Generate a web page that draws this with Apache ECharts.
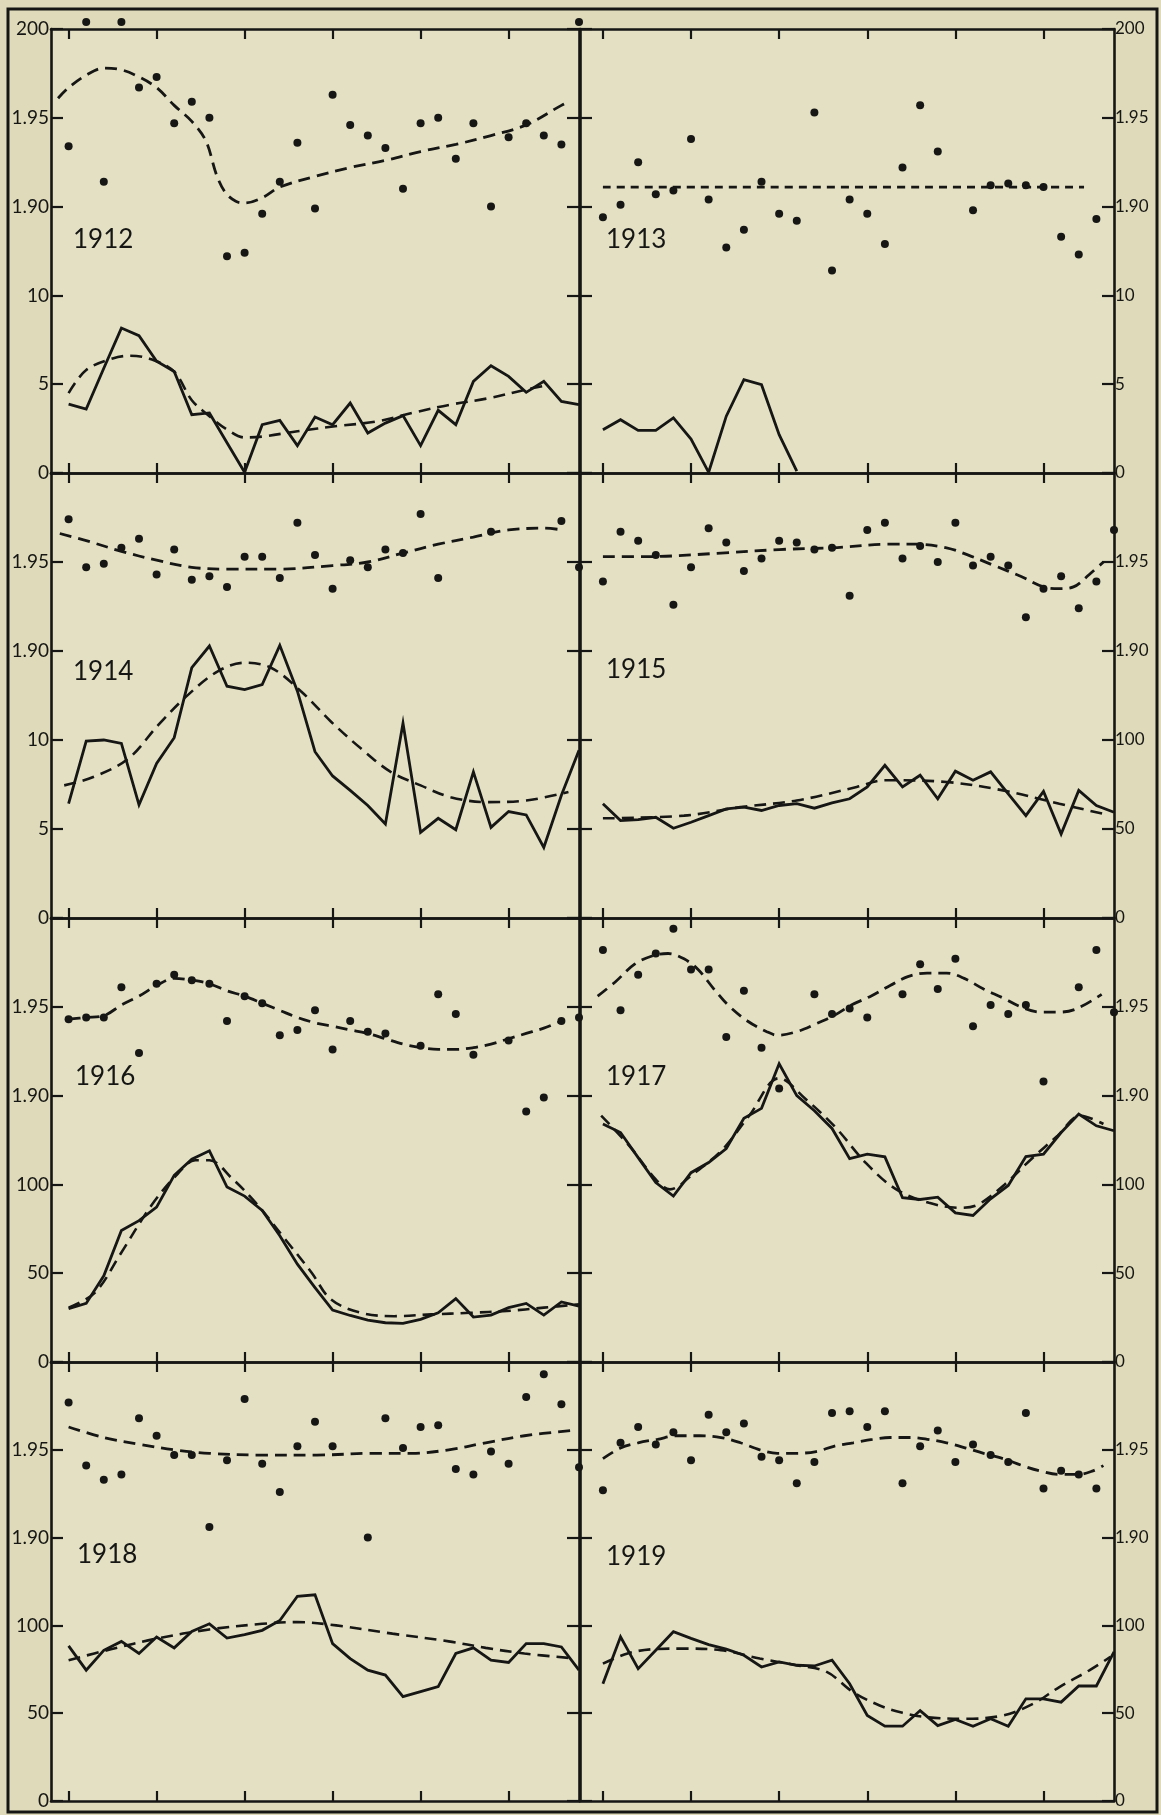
<!DOCTYPE html>
<html>
<head>
<meta charset="utf-8">
<script src="https://cdn.jsdelivr.net/npm/echarts@6/dist/echarts.min.js"></script>
<style>
  html, body { margin: 0; padding: 0; background: #dedaba; }
  #chart { width: 1161px; height: 1815px; }
</style>
</head>
<body>
<div id="chart"></div>
<script>
// ---- Data: one entry per period (index 0..29) for each year ----
// dotsYYYY  : upper scale readings (null where no reading)
// countYYYY : lower scale readings (solid line)
// fitYYYYUpper / fitYYYYLower : smoothed trend curves as [period, value]

const xTicks = [0, 5, 10, 15, 20, 25];

const dots1912 = [1.934, 2.004, 1.914, 2.004, 1.967, 1.973, 1.947, 1.959, 1.950, 1.872, 1.874, 1.896, 1.914, 1.936, 1.899, 1.963, 1.946, 1.940, 1.933, 1.910, 1.947, 1.950, 1.927, 1.947, 1.900, 1.939, 1.947, 1.940, 1.935, 2.004];
const count1912 = [3.88, 3.6, 5.9, 8.16, 7.73, 6.29, 5.72, 3.28, 3.38, 1.7, 0.04, 2.72, 2.96, 1.54, 3.15, 2.72, 3.94, 2.25, 2.81, 3.23, 1.54, 3.53, 2.72, 5.16, 6.04, 5.44, 4.54, 5.16, 4.03, 3.85];
const fit1912Upper = [[-0.6, 1.961], [0, 1.967], [1, 1.974], [2, 1.978], [3, 1.977], [4, 1.973], [5, 1.967], [6, 1.957], [7, 1.948], [7.8, 1.937], [8.4, 1.918], [8.9, 1.908], [9.5, 1.903], [10, 1.902], [11, 1.905], [12, 1.911], [14, 1.917], [16, 1.922], [18, 1.926], [20, 1.931], [22, 1.935], [24, 1.940], [26, 1.946], [28, 1.957], [28.4, 1.959]];
const fit1912Lower = [[0, 4.5], [1, 5.8], [2.5, 6.45], [3.5, 6.6], [4.7, 6.4], [6, 5.7], [7, 4.1], [8, 3.2], [9, 2.45], [10, 2.0], [11, 2.05], [13, 2.35], [15.3, 2.65], [17.5, 2.9], [19.6, 3.4], [21.7, 3.85], [23.8, 4.2], [26, 4.7], [27, 4.9]];

const dots1913 = [1.894, 1.901, 1.925, 1.907, 1.909, 1.938, 1.904, 1.877, 1.887, 1.914, 1.896, 1.892, 1.953, 1.864, 1.904, 1.896, 1.879, 1.922, 1.957, 1.931, null, 1.898, 1.912, 1.913, 1.912, 1.911, 1.883, 1.873, 1.893, null];
const count1913 = [2.44, 3.0, 2.4, 2.4, 3.1, 1.91, 0.04, 3.2, 5.25, 4.97, 2.16, 0.1];
const fit1913Upper = [[0, 1.911], [27.3, 1.911]];

const dots1914 = [1.974, 1.947, 1.949, 1.958, 1.963, 1.943, 1.957, 1.940, 1.942, 1.936, 1.953, 1.953, 1.941, 1.972, 1.954, 1.935, 1.951, 1.947, 1.957, 1.955, 1.977, 1.941, null, null, 1.967, null, null, null, 1.973, 1.947];
const count1914 = [6.42, 9.94, 10.0, 9.81, 6.36, 8.68, 10.13, 14.06, 15.28, 13.02, 12.83, 13.11, 15.32, 12.74, 9.34, 7.98, 7.17, 6.32, 5.28, 10.94, 4.81, 5.6, 4.96, 8.21, 5.09, 5.98, 5.79, 3.96, 6.9, 9.43];
const fit1914Upper = [[-0.5, 1.966], [1, 1.962], [3, 1.956], [5, 1.951], [7, 1.947], [9, 1.946], [12, 1.946], [15, 1.948], [17, 1.950], [19, 1.955], [21, 1.960], [23, 1.964], [25, 1.968], [27, 1.969], [28.1, 1.968]];
const fit1914Lower = [[-0.25, 7.45], [1.4, 7.92], [3.4, 8.96], [5.1, 10.85], [6.8, 12.55], [8.5, 13.87], [10, 14.34], [11.5, 14.06], [13.2, 12.74], [14.9, 11.04], [16.6, 9.53], [18.3, 8.21], [20, 7.45], [21.7, 6.79], [23.8, 6.51], [26, 6.6], [28.4, 7.08]];

const dots1915 = [1.939, 1.967, 1.962, 1.954, 1.926, 1.947, 1.969, 1.961, 1.945, 1.952, 1.962, 1.961, 1.957, 1.958, 1.931, 1.968, 1.972, 1.952, 1.959, 1.950, 1.972, 1.948, 1.953, 1.948, 1.919, 1.935, 1.942, 1.924, 1.939, 1.968];
const count1915 = [64.2, 54.7, 55.3, 56.6, 50.4, 53.8, 57.5, 61.3, 62.3, 60.4, 63.2, 64.2, 61.7, 64.7, 67.0, 73.6, 85.8, 73.6, 80.2, 67.0, 82.5, 77.4, 82.1, 69.8, 57.5, 71.1, 47.2, 71.7, 63.2, 59.4];
const fit1915Upper = [[0, 1.953], [2.4, 1.953], [6.7, 1.955], [10, 1.957], [13, 1.958], [16.3, 1.960], [17.8, 1.960], [19.5, 1.958], [20.7, 1.954], [22.2, 1.948], [23.7, 1.942], [25, 1.936], [25.9, 1.935], [26.7, 1.936], [27.6, 1.943], [28.4, 1.950]];
const fit1915Lower = [[0, 56.0], [4.6, 57.5], [7.8, 62.3], [11, 66.0], [14.4, 73.6], [16, 77.4], [19.5, 76.4], [22.7, 71.7], [25.9, 64.2], [28.4, 58.5]];

const dots1916 = [1.943, 1.944, 1.944, 1.961, 1.924, 1.963, 1.968, 1.965, 1.963, 1.942, 1.956, 1.952, 1.934, 1.937, 1.948, 1.926, 1.942, 1.936, 1.935, null, 1.928, 1.957, 1.946, 1.923, null, 1.931, 1.891, 1.899, 1.942, 1.944];
const count1916 = [30.0, 33.0, 48.5, 74.0, 79.6, 87.2, 105.1, 114.2, 118.9, 98.5, 93.4, 85.3, 71.1, 55.1, 41.9, 29.2, 26.2, 23.6, 22.1, 21.7, 24.0, 27.7, 35.7, 25.3, 26.4, 30.6, 33.0, 26.4, 33.8, 31.5];
const fit1916Upper = [[0, 1.943], [1, 1.944], [2, 1.945], [3, 1.951], [4, 1.956], [5, 1.962], [6, 1.966], [7, 1.965], [8, 1.963], [9, 1.959], [10, 1.956], [11, 1.952], [12, 1.948], [13, 1.944], [14, 1.941], [15, 1.939], [16, 1.937], [17, 1.935], [18, 1.932], [19, 1.929], [20, 1.927], [21, 1.926], [22, 1.926], [23, 1.927], [24, 1.929], [25, 1.932], [26, 1.935], [27, 1.938], [28, 1.942]];
const fit1916Lower = [[0, 30.6], [1.5, 39.1], [3, 61.7], [4.7, 88.1], [6.2, 106.0], [7.2, 113.6], [8, 113.6], [9.3, 103.2], [10.6, 90.0], [12.3, 69.2], [13.8, 50.4], [14.9, 35.3], [16.6, 27.7], [18.5, 25.8], [20.6, 26.8], [22.8, 27.7], [24.9, 28.7], [27, 30.6], [29, 32.5]];

const dots1917 = [1.982, 1.948, 1.968, 1.980, 1.994, 1.971, 1.971, 1.933, 1.959, 1.927, 1.904, null, 1.957, 1.946, 1.949, 1.944, null, 1.957, 1.974, 1.960, 1.977, 1.939, 1.951, 1.946, 1.951, 1.908, null, 1.961, 1.982, 1.947];
const count1917 = [134.0, 129.2, 115.1, 101.0, 93.4, 106.6, 112.3, 120.2, 137.2, 142.8, 167.9, 150.0, 141.5, 131.5, 114.5, 117.0, 115.5, 92.5, 91.5, 92.8, 84.0, 82.5, 91.9, 99.4, 115.7, 117.0, 129.2, 139.6, 133.0, 130.2];
const fit1917Upper = [[-0.3, 1.956], [0.7, 1.964], [1.8, 1.974], [2.9, 1.979], [3.7, 1.980], [4.6, 1.977], [5.4, 1.971], [6.3, 1.960], [7.1, 1.951], [8.2, 1.942], [9.3, 1.936], [9.9, 1.934], [11, 1.936], [12, 1.940], [13.1, 1.945], [14.1, 1.951], [15.2, 1.956], [16.3, 1.962], [17.3, 1.967], [18.4, 1.969], [19.5, 1.969], [20.5, 1.966], [21.6, 1.960], [22.7, 1.955], [23.7, 1.950], [24.8, 1.947], [25.9, 1.947], [26.9, 1.949], [28.3, 1.957]];
const fit1917Lower = [[-0.1, 138.7], [1.5, 121.7], [3, 102.8], [3.8, 97.2], [5.1, 105.7], [6.8, 119.8], [8.3, 138.7], [10, 159.8], [11.5, 148.1], [13.2, 132.1], [14.9, 112.3], [16.6, 97.5], [18.5, 89.6], [20.3, 86.8], [21.3, 88.7], [22.8, 100.0], [24.3, 114.2], [25.8, 127.4], [27.1, 138.7], [28.4, 134.0]];

const dots1918 = [1.977, 1.941, 1.933, 1.936, 1.968, 1.958, 1.947, 1.947, 1.906, 1.944, 1.979, 1.942, 1.926, 1.952, 1.966, 1.952, null, 1.900, 1.968, 1.951, 1.963, 1.964, 1.939, 1.936, 1.949, 1.942, 1.980, 1.993, 1.976, 1.940];
const count1918 = [88.3, 74.5, 85.8, 90.9, 84.0, 93.4, 87.2, 96.6, 100.9, 92.8, 94.7, 97.2, 102.8, 116.6, 117.4, 89.6, 81.1, 74.5, 71.7, 59.4, 62.3, 65.1, 84.0, 87.2, 80.2, 78.9, 89.6, 89.6, 87.7, 74.5];
const fit1918Upper = [[0, 1.963], [2, 1.957], [4.1, 1.953], [6, 1.950], [8, 1.948], [11, 1.947], [14.1, 1.947], [17.3, 1.948], [19.5, 1.948], [21.6, 1.950], [23.7, 1.954], [25.9, 1.958], [28.6, 1.961]];
const fit1918Lower = [[0, 80.2], [2.4, 86.4], [5, 92.5], [8, 97.7], [11, 100.9], [13, 101.9], [15.2, 100.0], [18.4, 95.3], [21.6, 90.9], [23.7, 87.2], [25.9, 84.0], [28.4, 81.5]];

const dots1919 = [1.927, 1.954, 1.963, 1.953, 1.960, 1.944, 1.970, 1.960, 1.965, 1.946, 1.944, 1.931, 1.943, 1.971, 1.972, 1.963, 1.972, 1.931, 1.952, 1.961, 1.943, 1.953, 1.947, 1.943, 1.971, 1.928, 1.938, 1.936, 1.928, null];
const count1919 = [66.8, 93.5, 75.4, 85.9, 96.4, 92.6, 89.1, 86.5, 83.0, 76.3, 79.2, 77.3, 76.9, 80.2, 66.8, 48.7, 42.6, 42.6, 51.5, 42.9, 46.4, 42.6, 46.8, 42.6, 58.2, 58.2, 56.3, 65.5, 65.5, 84.9];
const fit1919Upper = [[0, 1.945], [1, 1.951], [2, 1.954], [3.1, 1.956], [4.2, 1.958], [5.5, 1.958], [6.7, 1.957], [7.8, 1.954], [8.9, 1.950], [9.9, 1.948], [11, 1.948], [12.1, 1.949], [13.1, 1.952], [14.2, 1.954], [15.3, 1.956], [16.3, 1.957], [17.4, 1.957], [18.4, 1.956], [19.5, 1.954], [20.6, 1.951], [21.6, 1.948], [22.7, 1.945], [23.8, 1.941], [24.8, 1.938], [25.9, 1.936], [27, 1.936], [27.8, 1.938], [28.4, 1.941]];
const fit1919Lower = [[0, 78.2], [1.4, 84.0], [2.9, 86.5], [4.6, 86.8], [6.7, 85.9], [8.9, 81.1], [11, 77.3], [12.7, 73.5], [14.2, 62.0], [15.7, 54.4], [17, 50.2], [18.4, 47.7], [20.6, 46.8], [22.7, 48.7], [24.4, 55.3], [25.9, 64.9], [27.6, 74.4], [28.8, 82.1]];

// ---- Panel table: year, grid cell, lower-scale range ----
const panels = [
  { year: '1912', row: 0, col: 0, lowerMax: 25,  dots: dots1912, counts: count1912, fitUpper: fit1912Upper, fitLower: fit1912Lower },
  { year: '1913', row: 0, col: 1, lowerMax: 25,  dots: dots1913, counts: count1913, fitUpper: fit1913Upper, fitLower: null, shortDash: true },
  { year: '1914', row: 1, col: 0, lowerMax: 25,  dots: dots1914, counts: count1914, fitUpper: fit1914Upper, fitLower: fit1914Lower },
  { year: '1915', row: 1, col: 1, lowerMax: 250, dots: dots1915, counts: count1915, fitUpper: fit1915Upper, fitLower: fit1915Lower },
  { year: '1916', row: 2, col: 0, lowerMax: 250, dots: dots1916, counts: count1916, fitUpper: fit1916Upper, fitLower: fit1916Lower },
  { year: '1917', row: 2, col: 1, lowerMax: 250, dots: dots1917, counts: count1917, fitUpper: fit1917Upper, fitLower: fit1917Lower },
  { year: '1918', row: 3, col: 0, lowerMax: 250, dots: dots1918, counts: count1918, fitUpper: fit1918Upper, fitLower: fit1918Lower },
  { year: '1919', row: 3, col: 1, lowerMax: 250, dots: dots1919, counts: count1919, fitUpper: fit1919Upper, fitLower: fit1919Lower }
];

// ---- Layout ----
const INK = '#161614';
const PLOT_BG = '#e3e0c4';
const FONT = 'Lato, "Open Sans", sans-serif';
const colLeft = [51, 580];
const colWidth = [528, 534];
const colXMin = [-1.0, -1.3];
const rowTop = [29, 473, 918, 1362];
const rowHeight = [444, 445, 444, 439];
const yearPos = [[73, 227], [606, 227], [73, 659], [606, 657], [75, 1064], [606, 1064], [77, 1542], [606, 1544]];
const labelSize = [19, 17];

const grids = [], xAxes = [], yAxes = [], series = [], titles = [];

const lineStyleAxis = { color: INK, width: 2.6 };

panels.forEach((p, i) => {
  const outer = p.col === 0 ? 'left' : 'right';
  const inner = p.col === 0 ? 'right' : 'left';
  const step = p.lowerMax / 5;
  const labelStyle = { color: INK, fontFamily: FONT, fontSize: labelSize[p.col], margin: p.col === 0 ? 2 : 1 };

  grids.push({
    left: colLeft[p.col], top: rowTop[p.row],
    width: colWidth[p.col], height: rowHeight[p.row],
    show: true, backgroundColor: PLOT_BG, borderWidth: 0
  });

  const xBase = {
    type: 'value', gridIndex: i, min: colXMin[p.col], max: 29,
    axisLine: { show: true, onZero: false, lineStyle: lineStyleAxis },
    axisTick: { show: true, inside: true, length: 10, customValues: xTicks, lineStyle: { color: INK, width: 2.2 } },
    axisLabel: { show: false }, splitLine: { show: false }
  };
  xAxes.push(Object.assign({}, xBase, { position: 'bottom' }));
  xAxes.push(Object.assign({}, xBase, { position: 'top' }));

  // lower scale, outer side (labels 0 .. 2 steps)
  yAxes.push({
    type: 'value', gridIndex: i, position: outer, min: 0, max: p.lowerMax, interval: step,
    axisLine: { show: true, onZero: false, lineStyle: lineStyleAxis },
    axisTick: { show: true, inside: true, length: 12, lineStyle: { color: INK, width: 2.2 } },
    axisLabel: Object.assign({}, labelStyle, {
      showMinLabel: true, showMaxLabel: true,
      formatter: v => (v <= 2 * step + 1e-6 ? String(v) : '')
    }),
    splitLine: { show: false }
  });
  // upper scale, outer side (labels 1.90, 1.95, 200)
  yAxes.push({
    type: 'value', gridIndex: i, position: outer, min: 1.75, max: 2.0, interval: 0.05,
    axisLine: { show: false }, axisTick: { show: false },
    axisLabel: Object.assign({}, labelStyle, {
      showMinLabel: true, showMaxLabel: true,
      formatter: v => {
        if (v > 1.999) return p.row === 0 ? '200' : '';
        if (v > 1.899) return v.toFixed(2);
        return '';
      }
    }),
    splitLine: { show: false }
  });
  // inner side: ticks only
  yAxes.push({
    type: 'value', gridIndex: i, position: inner, min: 0, max: p.lowerMax, interval: step,
    axisLine: { show: true, onZero: false, lineStyle: lineStyleAxis },
    axisTick: { show: true, inside: true, length: 12, lineStyle: { color: INK, width: 2.2 } },
    axisLabel: { show: false }, splitLine: { show: false }
  });

  const xi = 2 * i, yLower = 3 * i, yUpper = 3 * i + 1;

  const dotData = [];
  p.dots.forEach((v, k) => { if (v !== null) dotData.push([k, v]); });
  series.push({
    type: 'scatter', xAxisIndex: xi, yAxisIndex: yUpper, data: dotData,
    symbolSize: 8, itemStyle: { color: INK, opacity: 1 }, clip: false, silent: true, z: 4
  });
  series.push({
    type: 'line', xAxisIndex: xi, yAxisIndex: yUpper, data: p.fitUpper,
    smooth: 0.35, symbol: 'none', silent: true,
    lineStyle: { color: INK, width: 2.8, type: p.shortDash ? [8, 6] : [12, 7] }
  });
  series.push({
    type: 'line', xAxisIndex: xi, yAxisIndex: yLower, data: p.counts.map((v, k) => [k, v]),
    symbol: 'none', silent: true,
    lineStyle: { color: INK, width: 2.8, join: 'miter' }
  });
  if (p.fitLower) {
    series.push({
      type: 'line', xAxisIndex: xi, yAxisIndex: yLower, data: p.fitLower,
      smooth: 0.35, symbol: 'none', silent: true,
      lineStyle: { color: INK, width: 2.6, type: [12, 7] }
    });
  }

  titles.push({
    text: p.year, left: yearPos[i][0], top: yearPos[i][1], padding: 0,
    textStyle: { color: INK, fontFamily: FONT, fontSize: 26, fontWeight: 'normal' }
  });
});

const chart = echarts.init(document.getElementById('chart'), null, { renderer: 'canvas' });
chart.setOption({
  backgroundColor: '#dedaba',
  animation: false,
  title: titles,
  grid: grids,
  xAxis: xAxes,
  yAxis: yAxes,
  series: series,
  graphic: [{
    type: 'rect', silent: true, z: 10,
    shape: { x: 8, y: 9, width: 1149, height: 1803 },
    style: { fill: null, stroke: INK, lineWidth: 3 }
  }]
});
</script>
</body>
</html>
